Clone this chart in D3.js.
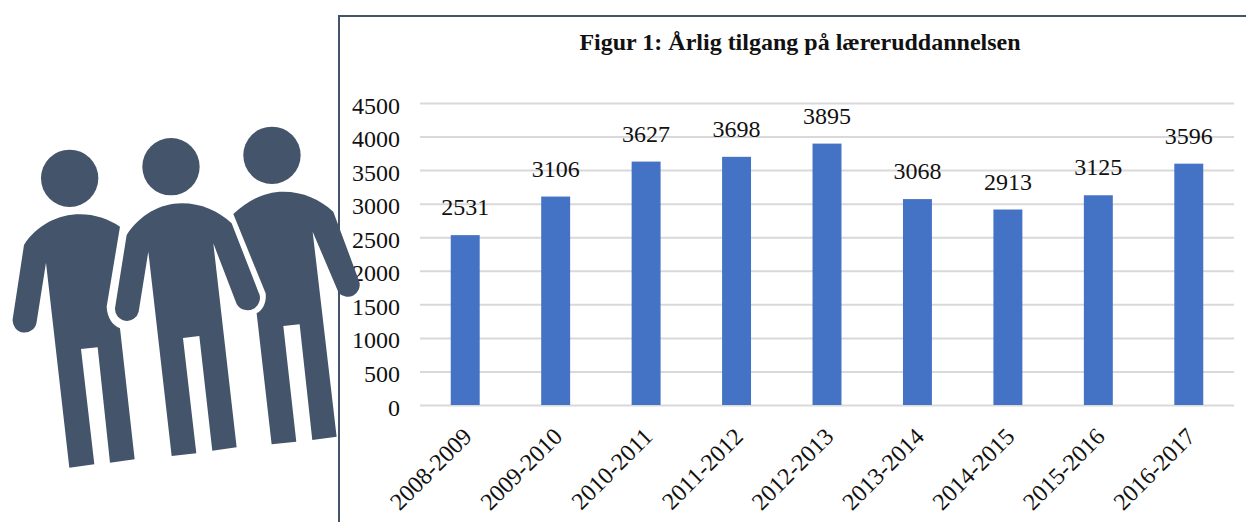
<!DOCTYPE html>
<html>
<head>
<meta charset="utf-8">
<script src="https://cdn.jsdelivr.net/npm/d3@7"></script>
<style>
  html, body { margin: 0; padding: 0; background: #fff; overflow: hidden; }
  text { font-family: "Liberation Serif", serif; fill: #111; }
</style>
</head>
<body>
<div id="chart"></div>
<script>
var titleText = 'Figur 1: Årlig tilgang på læreruddannelsen';
var years = ['2008-2009', '2009-2010', '2010-2011', '2011-2012', '2012-2013', '2013-2014', '2014-2015', '2015-2016', '2016-2017'];
var intake = [2531, 3106, 3627, 3698, 3895, 3068, 2913, 3125, 3596];
var yTicks = [0, 500, 1000, 1500, 2000, 2500, 3000, 3500, 4000, 4500];

// the three people on the left
var peopleHeads = [[209, 205], [513, 170], [816, 136]];
var peopleBodies = [
    'M72,405 C110,345 175,313 240,313 C285,313 325,327 360,350 L320,590 C322,625 338,645 360,655 L404,1048 L330,1058 L293,712 L243,717 L283,1063 L208,1073 L138,458 L110,635 A36,36 0 0 1 38,628 Z',
    'M380,375 C420,315 480,280 545,280 C605,280 655,303 695,340 L775,545 A36,36 0 0 1 710,582 L640,400 L710,1012 L637,1022 L598,678 L549,684 L589,1030 L515,1038 L445,425 L416,605 A36,36 0 0 1 345,595 Z',
    'M700,312 C745,270 795,245 850,245 C910,245 960,268 1000,305 L1078,515 A36,36 0 0 1 1016,548 L938,365 L1010,980 L937,990 L899,643 L850,648 L889,995 L815,1003 L770,610 C790,600 800,575 797,550 Z'
];

var width = 1246, height = 522;
var margin = { top: 103, right: 12, bottom: 117, left: 420 };
var plotWidth = width - margin.left - margin.right;
var plotHeight = height - margin.top - margin.bottom;

var svg = d3.select('#chart').append('svg')
    .attr('width', width)
    .attr('height', height)
    .style('display', 'block');

// frame round the chart
svg.append('path')
    .attr('d', 'M339,' + height + 'V16H' + width)
    .attr('fill', 'none')
    .attr('stroke', '#44546a')
    .attr('stroke-width', 2);

svg.append('text')
    .attr('x', 800)
    .attr('y', 50)
    .attr('text-anchor', 'middle')
    .attr('font-size', 24)
    .attr('font-weight', 'bold')
    .text(titleText);

var g = svg.append('g')
    .attr('transform', 'translate(' + margin.left + ',' + margin.top + ')');

var x = d3.scaleBand().domain(years).range([0, plotWidth]).paddingInner(0.68).paddingOuter(0.34);
var y = d3.scaleLinear().domain([0, 4500]).range([plotHeight, 0]);

// y axis with gridlines
var yAxis = g.append('g')
    .call(d3.axisLeft(y).tickValues(yTicks).tickSize(-plotWidth).tickPadding(20).tickFormat(d3.format('d')));
yAxis.select('.domain').remove();
yAxis.selectAll('.tick line').attr('stroke', '#d9d9d9').attr('stroke-width', 2);
yAxis.selectAll('.tick text')
    .attr('font-size', 24)
    .attr('font-family', '"Liberation Serif", serif')
    .attr('fill', '#111')
    .attr('dy', '0.42em');

// bars
g.selectAll('.bar')
    .data(intake)
    .enter().append('rect')
    .attr('class', 'bar')
    .attr('x', function (d, i) { return x(years[i]); })
    .attr('y', function (d) { return y(d); })
    .attr('width', x.bandwidth())
    .attr('height', function (d) { return plotHeight - y(d); })
    .attr('fill', '#4472c4');

// value labels
g.selectAll('.value')
    .data(intake)
    .enter().append('text')
    .attr('class', 'value')
    .attr('x', function (d, i) { return x(years[i]) + x.bandwidth() / 2; })
    .attr('y', function (d) { return y(d) - 20; })
    .attr('text-anchor', 'middle')
    .attr('font-size', 24)
    .text(function (d) { return d; });

// x axis, rotated labels
var xAxis = g.append('g')
    .attr('transform', 'translate(0,' + plotHeight + ')')
    .call(d3.axisBottom(x).tickSize(0));
xAxis.select('.domain').remove();
xAxis.selectAll('.tick text')
    .attr('font-size', 24)
    .attr('font-family', '"Liberation Serif", serif')
    .attr('fill', '#111')
    .attr('text-anchor', 'end')
    .attr('dy', 0)
    .attr('y', 0)
    .attr('transform', 'translate(8,33) rotate(-45)');

// people go on top of the frame and tick labels
var people = svg.append('g')
    .attr('transform', 'translate(0,110) scale(0.3333)')
    .attr('fill', '#44546a');
people.selectAll('circle')
    .data(peopleHeads)
    .enter().append('circle')
    .attr('cx', function (d) { return d[0]; })
    .attr('cy', function (d) { return d[1]; })
    .attr('r', 86);
people.selectAll('path')
    .data(peopleBodies)
    .enter().append('path')
    .attr('d', function (d) { return d; });
</script>
</body>
</html>
